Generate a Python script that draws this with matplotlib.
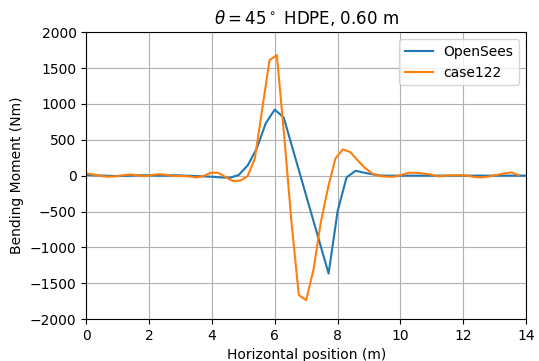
import numpy as np
import matplotlib
matplotlib.use("Agg")
import matplotlib.pyplot as plt

# OpenSees: 50 nodes, 0..14 m
opensees_x = np.linspace(0, 14, 50)
opensees_m = [10, 5, 0, -5, -5, 0, 5, 5, 0, 0, 5, 0, -5, -10,
              -15, -25, -30, 10, 145, 380, 730, 920, 810, 375,
              -60, -495, -930, -1365, -500, -25, 67, 40, 15, 0,
              0, 0, 0, 0, 0, 0, 0, 0, 0, 0, 0, 0, 0, 0, 0, 0]

# case122: 60 points, spacing 14/60
case_x = np.arange(60) * 14 / 60
case_m = [30, 15, -5, -15, -10, 5, 15, 5, -5, 10,
          20, 10, -5, -5, -10, -25, -5, 40, 40, -20,
          -75, -70, -10, 240, 920, 1610, 1680, 560, -650, -1665,
          -1735, -1310, -650, -160, 240, 365, 330, 215, 110, 30,
          -5, -15, -15, 10, 40, 40, 30, 15, -10, 0,
          5, 5, 0, -20, -25, -10, 10, 30, 45, 5]

fig = plt.figure(figsize=(5.39, 3.61), dpi=100)
ax = fig.add_subplot(111)
fig.subplots_adjust(left=0.16, right=0.976, top=0.911, bottom=0.116)

ax.plot(opensees_x, opensees_m, color="#1f77b4", label="OpenSees")
ax.plot(case_x, case_m, color="#ff7f0e", label="case122")

ax.set_xlim(0, 14)
ax.set_ylim(-2000, 2000)
ax.set_xticks(np.arange(0, 15, 2))
ax.set_yticks(np.arange(-2000, 2001, 500))
ax.grid(True)
ax.set_xlabel("Horizontal position (m)")
ax.set_ylabel("Bending Moment (Nm)")
ax.set_title(r"$\theta=45^\circ$ HDPE, 0.60 m")
ax.legend(loc="upper right")

fig.savefig("out.png", dpi=100)
